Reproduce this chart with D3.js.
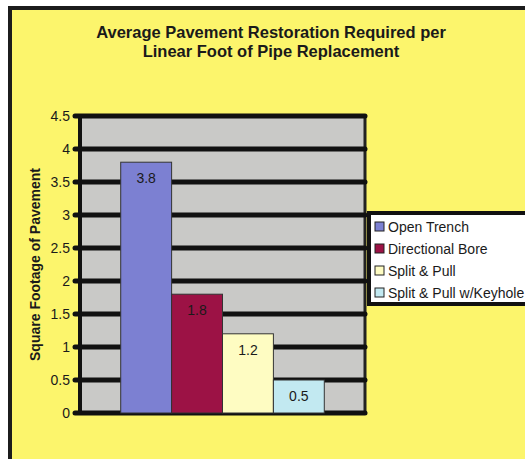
<!DOCTYPE html>
<html>
<head>
<meta charset="utf-8">
<title>Average Pavement Restoration</title>
<script src="https://cdn.jsdelivr.net/npm/d3@7"></script>
<style>
body { margin: 0; background: #fff; }
svg text { font-family: Arial, "Liberation Sans", sans-serif; fill: #1a1a1a; }
.grid line { stroke: #111; stroke-width: 5px; stroke-linecap: round; }
.bar { stroke: #333; stroke-width: 1px; }
</style>
</head>
<body>
<script>
// data
var series = ["Open Trench", "Directional Bore", "Split & Pull", "Split & Pull w/Keyhole"];
var values = [3.8, 1.8, 1.2, 0.5];
var colors = ["#7c80d2", "#9c1245", "#fefcc2", "#c2e9f1"];
var tickValues = [0, 0.5, 1, 1.5, 2, 2.5, 3, 3.5, 4, 4.5];
var tickLabels = ["0", "0.5", "1", "1.5", "2", "2.5", "3", "3.5", "4", "4.5"];
var titleLines = ["Average Pavement Restoration Required per", "Linear Foot of Pipe Replacement"];
var yTitle = "Square Footage of Pavement";

var W = 525, H = 459;
var margin = {top: 116, left: 80};
var width = 285, height = 297;

var svg = d3.select("body").append("svg")
    .attr("width", W).attr("height", H);

// yellow frame
svg.append("rect").attr("x", 10).attr("y", 8).attr("width", W).attr("height", H)
    .attr("fill", "#fcf56c").attr("stroke", "#1c1c1c").attr("stroke-width", 4);

// title
svg.append("g").selectAll("text").data(titleLines).enter().append("text")
    .attr("x", 271).attr("y", function(d, i) { return 38 + i * 19; })
    .attr("text-anchor", "middle")
    .style("font-size", "16.5px").style("font-weight", "bold")
    .text(function(d) { return d; });

var g = svg.append("g")
    .attr("transform", "translate(" + margin.left + "," + margin.top + ")");

var y = d3.scaleLinear().domain([0, 4.5]).range([height, 0]);

var x0 = d3.scaleBand().domain(["all"]).range([0, width]).paddingOuter(0.2);
var x1 = d3.scaleBand().domain(series)
    .range([x0("all"), x0("all") + x0.bandwidth()]);

// plot area
g.append("rect").attr("width", width).attr("height", height)
    .attr("fill", "#c9c9c7");
g.append("line").attr("x1", width).attr("x2", width).attr("y1", 0).attr("y2", height)
    .attr("stroke", "#222").attr("stroke-width", 3);

// grid lines
g.append("g").attr("class", "grid").selectAll("line").data(tickValues).enter().append("line")
    .attr("x1", -5).attr("x2", width)
    .attr("y1", function(d) { return y(d); }).attr("y2", function(d) { return y(d); });

// y axis
var yAxis = g.append("g")
    .call(d3.axisLeft(y).tickValues(tickValues).tickSize(0).tickPadding(10)
        .tickFormat(function(d, i) { return tickLabels[i]; }));
yAxis.select(".domain").remove();
yAxis.selectAll("text").style("font-size", "14px").attr("fill", "#1a1a1a");
g.append("line").attr("x1", 0).attr("x2", 0).attr("y1", 0).attr("y2", height)
    .attr("stroke", "#111").attr("stroke-width", 4);

// bars
g.selectAll(".bar").data(values).enter().append("rect")
    .attr("class", "bar")
    .attr("x", function(d, i) { return x1(series[i]); })
    .attr("y", function(d) { return y(d); })
    .attr("width", x1.bandwidth())
    .attr("height", function(d) { return height - y(d); })
    .attr("fill", function(d, i) { return colors[i]; });

g.selectAll(".val").data(values).enter().append("text")
    .attr("class", "val")
    .attr("x", function(d, i) { return x1(series[i]) + x1.bandwidth() / 2; })
    .attr("y", function(d) { return y(d) + 21; })
    .attr("text-anchor", "middle")
    .style("font-size", "14px")
    .text(function(d) { return d; });

// y title
svg.append("text")
    .attr("transform", "translate(40," + (margin.top + height / 2) + ") rotate(-90)")
    .attr("text-anchor", "middle")
    .style("font-size", "14px").style("font-weight", "bold")
    .text(yTitle);

// legend
var legend = svg.append("g").attr("transform", "translate(369,213)");
legend.append("rect").attr("width", 170).attr("height", 91)
    .attr("fill", "#fff").attr("stroke", "#111").attr("stroke-width", 4);
var item = legend.selectAll(".item").data(series).enter().append("g")
    .attr("transform", function(d, i) { return "translate(6," + (14 + i * 22) + ")"; });
item.append("rect").attr("x", 0).attr("y", -5).attr("width", 9).attr("height", 9)
    .attr("fill", function(d, i) { return colors[i]; })
    .attr("stroke", "#222").attr("stroke-width", 1);
item.append("text").attr("x", 13).attr("y", 5)
    .style("font-size", "14px")
    .text(function(d) { return d; });
</script>
</body>
</html>
